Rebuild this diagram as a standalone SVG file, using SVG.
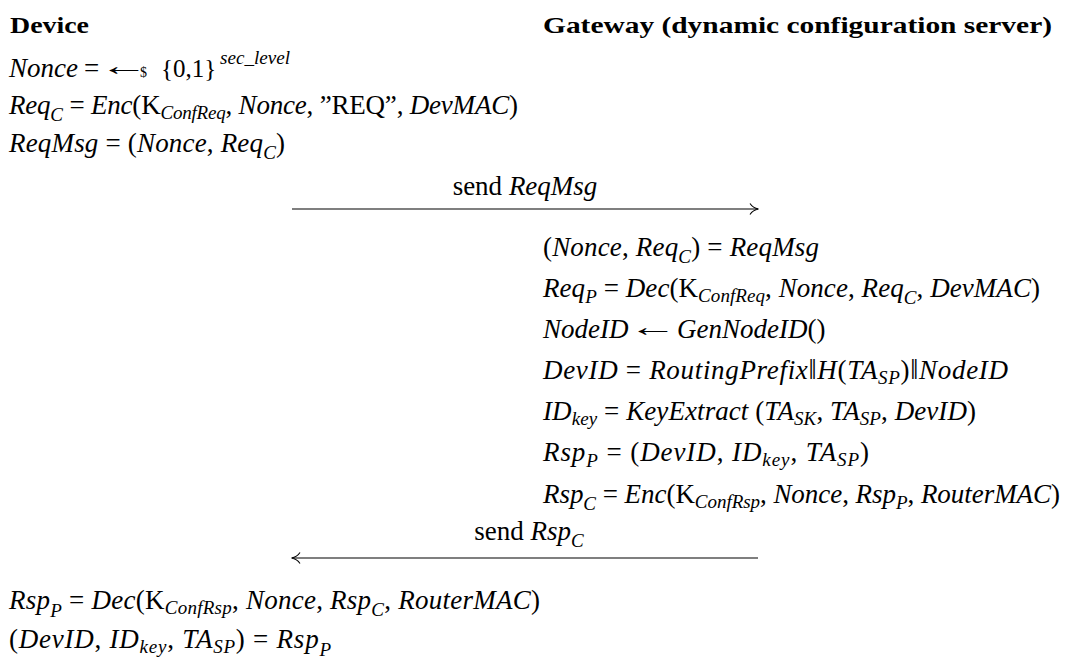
<svg xmlns="http://www.w3.org/2000/svg" width="1070" height="658" viewBox="0 0 1070 658">
<style>
.h{font-family:"Liberation Serif",serif;font-weight:bold;font-size:24px;fill:#000}
.m{font-family:"Liberation Serif",serif;font-style:italic;font-size:27px;fill:#000}
.r{font-style:normal}
.s{font-size:19px}
.bar{font-style:normal;font-size:29px}
.conn{stroke:#000;stroke-width:1.1;fill:none}
</style>
<rect width="1070" height="658" fill="#fff"/>
<g id="device-header"><text class="h" x="10" y="33" textLength="79" lengthAdjust="spacingAndGlyphs">Device</text></g>
<g id="gateway-header"><text class="h" x="543" y="33" textLength="509" lengthAdjust="spacingAndGlyphs">Gateway (dynamic configuration server)</text></g>

<g id="device-prep">
<text class="m" x="9" y="77">Nonce<tspan class="r" x="84">=</tspan><tspan class="r" x="140" font-size="14">$</tspan><tspan class="r" x="161" font-size="25">{0,1}</tspan><tspan class="s" x="220" dy="-13" textLength="70" lengthAdjust="spacingAndGlyphs">sec_level</tspan></text>
<text class="m r" transform="translate(100,75) scale(1.8,1)" x="0" y="0">←</text>
<text class="m" x="9" y="114" textLength="509">Req<tspan class="s" dy="7">C</tspan><tspan class="r" dy="-7"> = </tspan>Enc<tspan class="r">(K</tspan><tspan class="s" dy="5">ConfReq</tspan><tspan class="r" dy="-5">, </tspan>Nonce<tspan class="r">, ”REQ”, </tspan>DevMAC<tspan class="r">)</tspan></text>
<text class="m" x="9" y="152" textLength="276">ReqMsg<tspan class="r"> = (</tspan>Nonce<tspan class="r">, </tspan>Req<tspan class="s" dy="7">C</tspan><tspan class="r" dy="-7">)</tspan></text>
</g>

<g id="msg1-label"><text class="m" x="525" y="195" text-anchor="middle"><tspan class="r">send </tspan>ReqMsg</text></g>

<g id="gateway-proc">
<text class="m" x="543" y="256" textLength="276"><tspan class="r">(</tspan>Nonce<tspan class="r">, </tspan>Req<tspan class="s" dy="7">C</tspan><tspan class="r" dy="-7">) = </tspan>ReqMsg</text>
<text class="m" x="543" y="297" textLength="497">Req<tspan class="s" dy="6">P</tspan><tspan class="r" dy="-6"> = </tspan>Dec<tspan class="r">(K</tspan><tspan class="s" dy="5">ConfReq</tspan><tspan class="r" dy="-5">, </tspan>Nonce<tspan class="r">, </tspan>Req<tspan class="s" dy="7">C</tspan><tspan class="r" dy="-7">, </tspan>DevMAC<tspan class="r">)</tspan></text>
<text class="m" x="543" y="338">NodeID<tspan x="677">GenNodeID</tspan><tspan class="r">()</tspan></text>
<text class="m r" transform="translate(629,336) scale(1.8,1)" x="0" y="0">←</text>
<text class="m" x="543" y="379" textLength="465">DevID<tspan class="r"> = </tspan>RoutingPrefix<tspan class="bar">‖</tspan>H<tspan class="r">(</tspan>TA<tspan class="s" dy="5">SP</tspan><tspan class="r" dy="-5">)</tspan><tspan class="bar">‖</tspan>NodeID</text>
<text class="m" x="543" y="420" textLength="433">ID<tspan class="s" dy="5">key</tspan><tspan class="r" dy="-5"> = </tspan>KeyExtract<tspan class="r"> (</tspan>TA<tspan class="s" dy="5">SK</tspan><tspan class="r" dy="-5">, </tspan>TA<tspan class="s" dy="5">SP</tspan><tspan class="r" dy="-5">, </tspan>DevID<tspan class="r">)</tspan></text>
<text class="m" x="543" y="461" textLength="326">Rsp<tspan class="s" dy="6">P</tspan><tspan class="r" dy="-6"> = (</tspan>DevID<tspan class="r">, </tspan>ID<tspan class="s" dy="5">key</tspan><tspan class="r" dy="-5">, </tspan>TA<tspan class="s" dy="5">SP</tspan><tspan class="r" dy="-5">)</tspan></text>
<text class="m" x="543" y="503" textLength="517">Rsp<tspan class="s" dy="7">C</tspan><tspan class="r" dy="-7"> = </tspan>Enc<tspan class="r">(K</tspan><tspan class="s" dy="5">ConfRsp</tspan><tspan class="r" dy="-5">, </tspan>Nonce<tspan class="r">, </tspan>Rsp<tspan class="s" dy="6">P</tspan><tspan class="r" dy="-6">, </tspan>RouterMAC<tspan class="r">)</tspan></text>
</g>

<g id="msg2-label"><text class="m" x="529" y="540" text-anchor="middle"><tspan class="r">send </tspan>Rsp<tspan class="s" dy="7">C</tspan></text></g>

<g id="device-final">
<text class="m" x="9" y="609" textLength="531">Rsp<tspan class="s" dy="8">P</tspan><tspan class="r" dy="-8"> = </tspan>Dec<tspan class="r">(K</tspan><tspan class="s" dy="5">ConfRsp</tspan><tspan class="r" dy="-5">, </tspan>Nonce<tspan class="r">, </tspan>Rsp<tspan class="s" dy="7">C</tspan><tspan class="r" dy="-7">, </tspan>RouterMAC<tspan class="r">)</tspan></text>
<text class="m" x="9" y="648" textLength="322"><tspan class="r">(</tspan>DevID<tspan class="r">, </tspan>ID<tspan class="s" dy="5">key</tspan><tspan class="r" dy="-5">, </tspan>TA<tspan class="s" dy="5">SP</tspan><tspan class="r" dy="-5">) = </tspan>Rsp<tspan class="s" dy="8">P</tspan></text>
</g>

<g id="connectors">
<path class="conn" d="M292,209 H758"/>
<path class="conn" d="M750,203.5 Q753,208 758.5,209 Q753,210 750,214.5"/>
<path class="conn" d="M292,558 H758"/>
<path class="conn" d="M300,552.5 Q297,557 291.5,558 Q297,559 300,563.5"/>
</g>
</svg>
